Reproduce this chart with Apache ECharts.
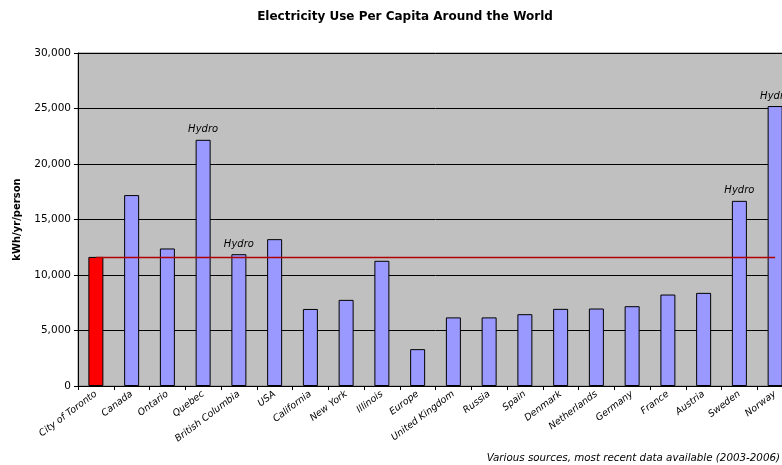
<!DOCTYPE html>
<html><head><meta charset="utf-8">
<script src="https://cdn.jsdelivr.net/npm/echarts@6/dist/echarts.min.js"></script>
<style>html,body{margin:0;padding:0;background:#fff;overflow:hidden;width:782px;height:465px}#c{width:793px;height:465px}</style>
</head><body><div id="c"></div>
<script>
const categories = ["City of Toronto","Canada","Ontario","Quebec","British Columbia","USA","California","New York","Illinois","Europe","United Kingdom","Russia","Spain","Denmark","Netherlands","Germany","France","Austria","Sweden","Norway"];
const values = [11630,17200,12390,22180,11875,13230,6940,7760,11280,3320,6180,6180,6470,6950,6980,7190,8240,8390,16680,25220];
const hydro = ["Quebec","British Columbia","Sweden","Norway"];
const highlight = "City of Toronto";
const yTicks = {min:0, max:30000, interval:5000};
const refValue = values[0];

const FONT = "DejaVu Sans";
const chart = echarts.init(document.getElementById('c'), null, {renderer:'canvas'});
chart.setOption({
  animation:false,
  textStyle:{fontFamily:FONT},
  title:{text:"Electricity Use Per Capita Around the World", left:400, textAlign:'center', top:6,
    textStyle:{fontSize:12, fontWeight:'bold', color:'#000', fontFamily:FONT}},
  graphic:[{type:'text', right:13, top:453, style:{text:"Various sources, most recent data available (2003-2006)",
    font:"italic 10.3px 'DejaVu Sans'", fill:'#000'}}],
  grid:{left:78, top:53, bottom:79, right:0, show:true, backgroundColor:'#C0C0C0', borderColor:'#808080', borderWidth:1},
  xAxis:{type:'category', data:categories,
    axisLine:{lineStyle:{color:'#000'}},
    axisTick:{show:true, length:4, lineStyle:{color:'#000'}},
    axisLabel:{rotate:37, interval:0, fontSize:9.5, fontStyle:'italic', color:'#000', margin:7, fontFamily:FONT}},
  yAxis:{type:'value', min:yTicks.min, max:yTicks.max, interval:yTicks.interval,
    name:"kWh/yr/person", nameLocation:'middle', nameGap:56,
    nameTextStyle:{fontSize:10, fontWeight:'bold', color:'#000', fontFamily:FONT},
    axisLine:{show:true, lineStyle:{color:'#000'}},
    axisTick:{show:true, length:4, lineStyle:{color:'#000'}},
    axisLabel:{fontSize:10.5, color:'#000', margin:7, fontFamily:FONT,
      formatter:v=>v.toLocaleString('en-US')},
    splitLine:{show:true, lineStyle:{color:'#000', width:1}}},
  series:[{type:'bar', barWidth:15,
    data:categories.map((c,i)=>({value:values[i],
      itemStyle:{color:c===highlight?'#FF0000':'#9999FF', borderColor:'#000', borderWidth:1},
      label:{show:hydro.includes(c), position:'top', distance:5, formatter:'Hydro',
        fontSize:10, fontStyle:'italic', color:'#000', fontFamily:FONT}})),
    markLine:{silent:true, symbol:['none','none'], label:{show:false},
      lineStyle:{color:'#B00000', width:1.3, type:'solid'},
      data:[[{coord:[0, refValue]},{coord:[categories.length-1, refValue]}]]}
  }]
});
</script></body></html>
